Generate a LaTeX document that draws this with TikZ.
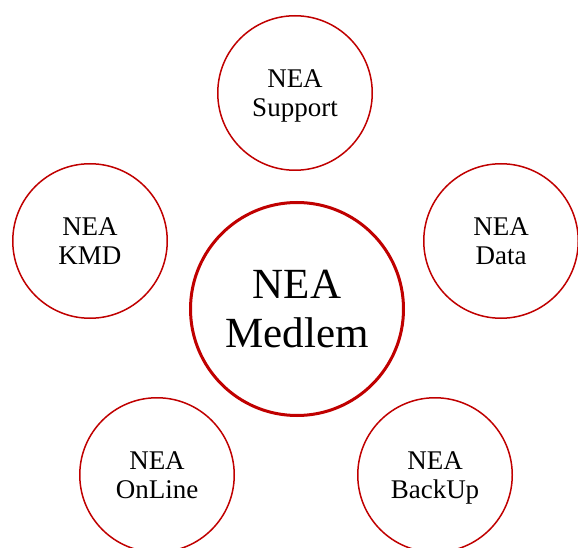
\documentclass[tikz,border=0pt]{standalone}
\usepackage{fontspec}
\setmainfont{Liberation Serif}
\usepackage{xcolor}
\usetikzlibrary{positioning}
\definecolor{neared}{HTML}{C00000}

\begin{document}
\begin{tikzpicture}[x=1pt,y=1pt,semithick]
	\tikzstyle{small}=[circle, draw=neared, line width=1.5pt, fill=white, text=black, minimum size=154.5pt, inner sep=0pt, align=center, text depth=0pt, font=\fontsize{27}{29}\selectfont]
	\tikzstyle{big}=[circle, draw=neared, line width=3pt, fill=white, text=black, minimum size=213pt, inner sep=0pt, align=center, font=\fontsize{43}{49}\selectfont]
	\useasboundingbox (0,0) rectangle (578,547);
			\node[big]    (M) at (297,238) {NEA\\Medlem};
			\node[small]  (S) at (295,454) {NEA\\Support};
			\node[small]  (K) at (90,306)  {NEA\\KMD};
			\node[small]  (D) at (501,306) {NEA\\Data};
			\node[small]  (O) at (157,72)  {NEA\\OnLine};
			\node[small]  (B) at (435,72)  {NEA\\BackUp};
\end{tikzpicture}
\end{document}
